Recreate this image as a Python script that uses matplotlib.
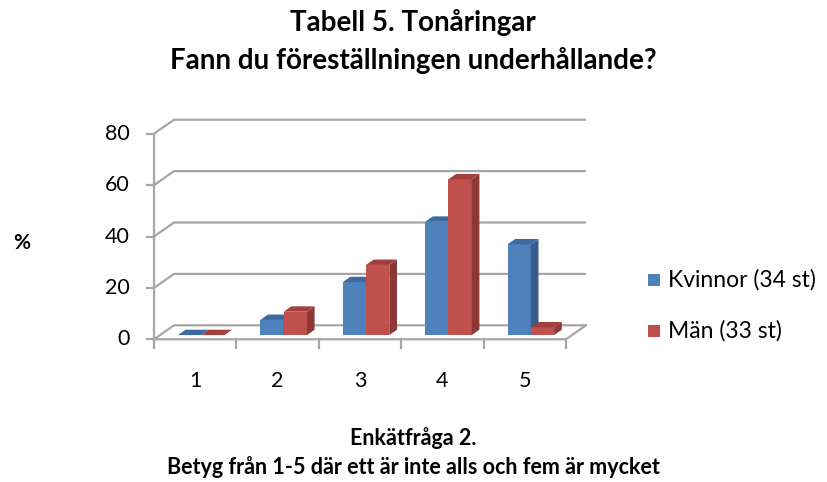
import matplotlib
matplotlib.use("Agg")
import numpy as np
from matplotlib import pyplot as plt
from matplotlib.patches import Polygon

W, H = 827, 482

categories = ["1", "2", "3", "4", "5"]
kvinnor = [0.0, 5.9, 20.6, 44.1, 35.3]
man = [0.0, 9.1, 27.3, 60.6, 3.0]
series_names = ["Kvinnor (34 st)", "Män (33 st)"]
y_ticks = [0, 20, 40, 60, 80]

FRONT = ["#4F81BD", "#C0504D"]
SIDE = ["#385D8A", "#8C3836"]
TOP = ["#3E6A9F", "#A33F3C"]
GRID = "#A6A6A6"

plt.rcParams["font.family"] = ["Lato", "DejaVu Sans"]

# pixel geometry of the plot
PX_X0 = 154.0       # front left edge (x = 0.5)
PX_CAT = 82.4       # px per category
PX_Y0 = 339.3       # front zero line
PX_VAL = 2.57       # px per percent
DX = 20.0 / PX_CAT  # depth offset in data units
DY = 14.0 / PX_VAL

ax_l, ax_r, ax_t, ax_b = 90, 620, 90, 400

fig = plt.figure(figsize=(W / 100, H / 100), dpi=100)
ax = fig.add_axes([ax_l / W, 1 - ax_b / H, (ax_r - ax_l) / W, (ax_b - ax_t) / H])
ax.set_xlim((ax_l - PX_X0) / PX_CAT + 0.5, (ax_r - PX_X0) / PX_CAT + 0.5)
ax.set_ylim((PX_Y0 - ax_b) / PX_VAL, (PX_Y0 - ax_t) / PX_VAL)
ax.axis("off")

n = len(categories)
x0, x1 = 0.5, n + 0.5

# back wall gridlines + left diagonals
for v in y_ticks:
    ax.plot([x0, x0 + DX, x1 + DX], [v, v + DY, v + DY], color=GRID, lw=1.6,
            solid_capstyle="butt", zorder=1)
    ax.plot([x0 - 7 / PX_CAT, x0], [v, v], color=GRID, lw=1.6, zorder=1)
    ax.text(x0 - 24 / PX_CAT, v, str(v), ha="right", va="center", fontsize=15.5)
# floor
ax.plot([x0, x1, x1 + DX], [0, 0, DY], color=GRID, lw=1.6, zorder=1)
ax.plot([x0, x0], [0, y_ticks[-1]], color=GRID, lw=1.6, zorder=1)
for i in range(n + 1):
    ax.plot([x0 + i, x0 + i], [0, -9 / PX_VAL], color=GRID, lw=1.6, zorder=1)
for i, c in enumerate(categories):
    ax.text(i + 1, -42 / PX_VAL, c, ha="center", va="center", fontsize=15.5)

bw = 23.3 / PX_CAT
d0, d1 = 0.3, 0.385
base = d0 * DY
shift = d0 * DX
for s, vals in enumerate([kvinnor, man]):
    xs = np.arange(1, n + 1) - bw + s * bw + shift
    ax.bar(xs, vals, width=bw, bottom=base, align="edge", color=FRONT[s],
           lw=0, zorder=3 + s)
    for x, v in zip(xs, vals):
        top = base + v
        ddx, ddy = d1 * DX, d1 * DY
        ax.add_patch(Polygon([(x + bw, base), (x + bw + ddx, base + ddy),
                              (x + bw + ddx, top + ddy), (x + bw, top)],
                             closed=True, fc=SIDE[s], lw=0, zorder=3 + s))
        ax.add_patch(Polygon([(x, top), (x + bw, top), (x + bw + ddx, top + ddy),
                              (x + ddx, top + ddy)],
                             closed=True, fc=TOP[s], lw=0, zorder=3 + s))

# legend
for s, name in enumerate(series_names):
    yc = 280 + s * 51
    fig.patches.append(plt.Rectangle((648 / W, 1 - (yc + 6) / H), 12 / W, 12 / H,
                                     transform=fig.transFigure, fc=FRONT[s], lw=0))
    fig.text(668 / W, 1 - yc / H, name, ha="left", va="center", fontsize=16.5)

fig.text(413 / W, 1 - 22 / H, "Tabell 5. Tonåringar", ha="center", va="center",
         fontsize=20, fontweight="bold")
fig.text(413 / W, 1 - 60 / H, "Fann du föreställningen underhållande?", ha="center",
         va="center", fontsize=20, fontweight="bold")
fig.text(22 / W, 1 - 243 / H, "%", ha="center", va="center", fontsize=15,
         fontweight="bold")
fig.text(413 / W, 1 - 438 / H, "Enkätfråga 2.", ha="center", va="center",
         fontsize=15.5, fontweight="bold")
fig.text(413 / W, 1 - 467 / H, "Betyg från 1-5 där ett är inte alls och fem är mycket",
         ha="center", va="center", fontsize=15.5, fontweight="bold")

fig.savefig("out.png", dpi=100)
